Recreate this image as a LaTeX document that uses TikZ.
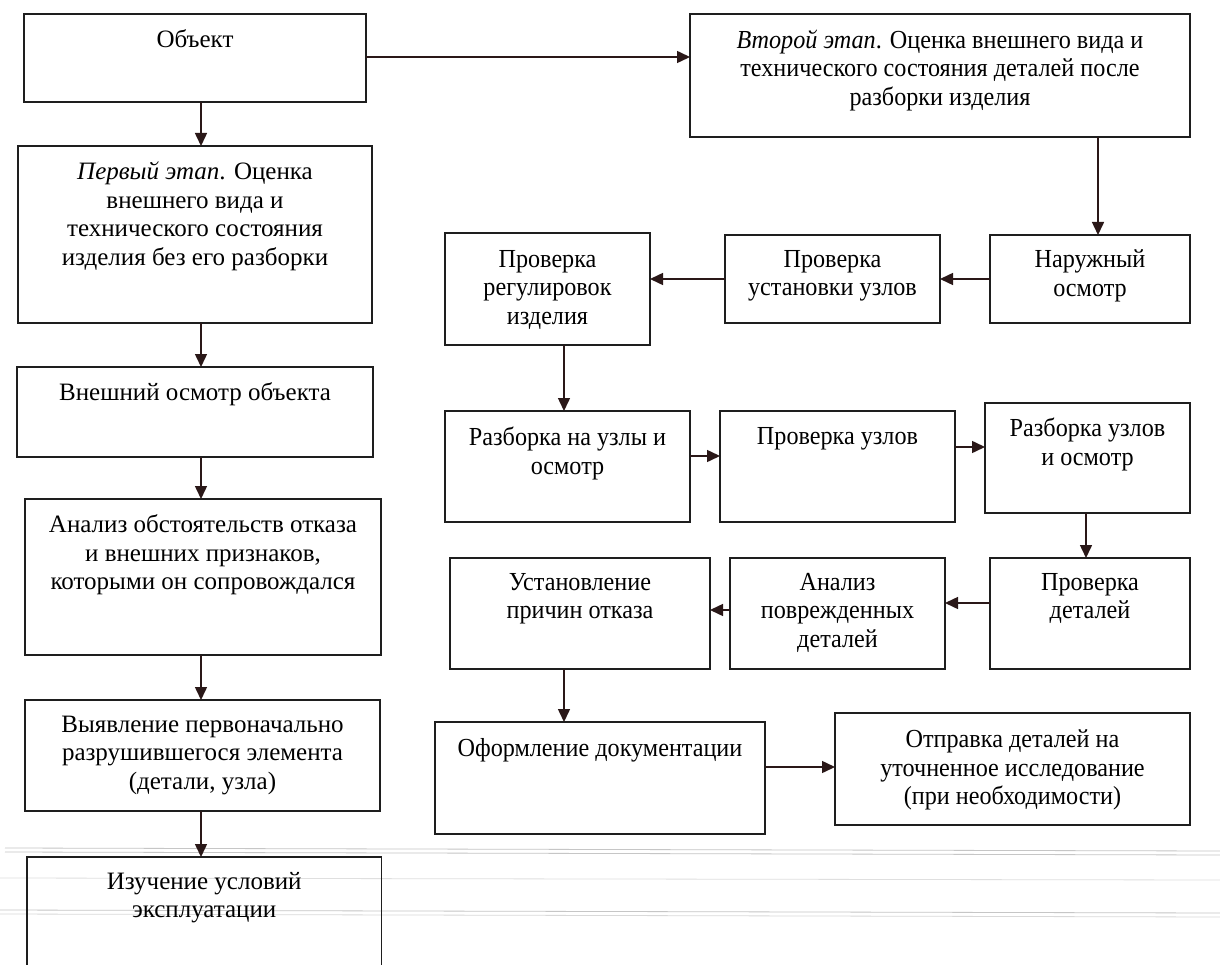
\documentclass[tikz,border=0pt]{standalone}
\usepackage{fontspec}
\setmainfont{Liberation Serif}
\newfontfamily\cond[FakeStretch=0.93]{Liberation Serif}
\usetikzlibrary{arrows.meta,calc}
\definecolor{ink}{HTML}{1E1E1E}
\definecolor{arr}{HTML}{2A1818}
\newcommand\Lf{\fontsize{25}{28.5}\selectfont}
\newcommand\Rf{\cond\fontsize{26}{28.5}\selectfont}
% name, x, y, w, h, gap, text
\newcommand\bx[7]{\node[box,anchor=north west] (#1) at (#2,-#3) {\parbox[c][#5pt][t]{#4pt}{\centering\vspace*{#6pt}#7\par}};}
\begin{document}
\begin{tikzpicture}[x=1pt,y=1pt,
  box/.style={draw=ink,line width=1.6pt,inner sep=0pt,outer sep=0pt},
  link/.style={draw=arr,line width=1.5pt,-{Triangle[length=13pt,width=12pt]}},
  scan/.style={draw=gray!45,line width=0.8pt}]
\useasboundingbox (0,0) rectangle (1220,-965);
\fill[white] (0,0) rectangle (1220,-965);
% scan lines
\draw[scan] (5,-848) -- (1220,-851);
\draw[scan] (5,-852) -- (1220,-855);
\draw[scan,draw=gray!25] (0,-878) -- (1220,-880);
\draw[scan] (0,-910) -- (1220,-913);
\draw[scan,draw=gray!30] (0,-914) -- (1220,-917);
% left column
\bx{obj}{24}{14}{342}{88}{16}{\Lf Объект}
\bx{st1}{18}{146}{354}{177}{16}{\Lf\textit{Первый этап}. Оценка\\внешнего вида и\\технического состояния\\изделия без его разборки}
\bx{ext}{17}{367}{356}{90}{16}{\Lf Внешний осмотр объекта}
\bx{an}{25}{499}{356}{156}{16}{\Lf Анализ обстоятельств отказа\\и внешних признаков,\\которыми он сопровождался}
\bx{vyy}{25}{700}{355}{111}{16}{\Lf Выявление первоначально\\разрушившегося элемента\\(детали, узла)}
\node[anchor=north west,inner sep=0pt] (izu) at (27,-857) {\parbox[c][108pt][t]{354pt}{\centering\vspace*{15pt}\Lf Изучение условий\\эксплуатации\par}};
\draw[ink,line width=1.6pt] (izu.south west) -- (izu.north west) -- (izu.north east) -- (izu.south east);
% right side
\bx{st2}{690}{14}{500}{123}{16}{\Rf\textit{Второй этап}. Оценка внешнего вида и\\технического состояния деталей после\\разборки изделия}
\bx{preg}{445}{233}{205}{112}{17}{\Rf Проверка\\регулировок\\изделия}
\bx{pust}{725}{235}{215}{88}{15}{\Rf Проверка\\установки узлов}
\bx{nar}{990}{235}{200}{88}{15}{\Rf Наружный\\осмотр}
\bx{raz}{445}{411}{245}{111}{16}{\Rf Разборка на узлы и\\осмотр}
\bx{puz}{720}{411}{235}{111}{16}{\Rf Проверка узлов}
\bx{rzu}{985}{403}{205}{110}{15}{\Rf Разборка узлов\\и осмотр}
\bx{ust}{450}{558}{260}{111}{15}{\Rf Установление\\причин отказа}
\bx{apd}{730}{558}{215}{111}{15}{\Rf Анализ\\поврежденных\\деталей}
\bx{pdet}{990}{558}{200}{111}{15}{\Rf Проверка\\деталей}
\bx{ofo}{435}{722}{330}{112}{16}{\Rf Оформление документации}
\bx{otp}{835}{713}{355}{112}{17}{\Rf Отправка деталей на\\уточненное исследование\\(при необходимости)}
% connectors
\draw[link] (obj.east |- 0,-57) -- (st2.west |- 0,-57);
\draw[link] (201,0 |- obj.south) -- (201,0 |- st1.north);
\draw[link] (201,0 |- st1.south) -- (201,0 |- ext.north);
\draw[link] (201,0 |- ext.south) -- (201,0 |- an.north);
\draw[link] (201,0 |- an.south) -- (201,0 |- vyy.north);
\draw[link] (201,0 |- vyy.south) -- (201,0 |- izu.north);
\draw[link] (1098,0 |- st2.south) -- (1098,0 |- nar.north);
\draw[link] (nar.west |- 0,-279) -- (pust.east |- 0,-279);
\draw[link] (pust.west |- 0,-279) -- (preg.east |- 0,-279);
\draw[link] (564,0 |- preg.south) -- (564,0 |- raz.north);
\draw[link] (raz.east |- 0,-456) -- (puz.west |- 0,-456);
\draw[link] (puz.east |- 0,-447) -- (rzu.west |- 0,-447);
\draw[link] (1086,0 |- rzu.south) -- (1086,0 |- pdet.north);
\draw[link] (pdet.west |- 0,-603) -- (apd.east |- 0,-603);
\draw[link] (apd.west |- 0,-610) -- (ust.east |- 0,-610);
\draw[link] (564,0 |- ust.south) -- (564,0 |- ofo.north);
\draw[link] (ofo.east |- 0,-767) -- (otp.west |- 0,-767);
\end{tikzpicture}
\end{document}
